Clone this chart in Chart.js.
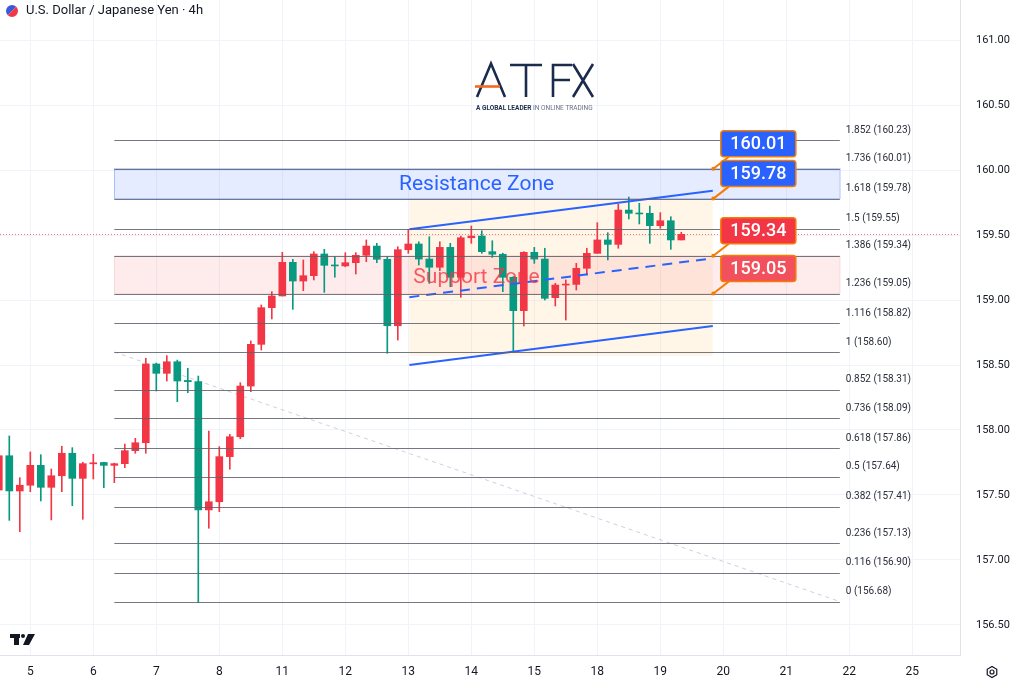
<!DOCTYPE html>
<html>
<head>
<meta charset="utf-8">
<script src="https://cdn.jsdelivr.net/npm/chart.js@4.4.1/dist/chart.umd.min.js"></script>
<style>
  html, body { margin: 0; padding: 0; background: #fff; }
  #wrap { width: 1024px; height: 688px; }
</style>
</head>
<body>
<div id="wrap"><canvas id="fxChart" width="1024" height="688"></canvas></div>
<script>
// USD/JPY 4h candles, index 0 = first candle of day 5
const firstIndex = -3;
const opens  = [157.538,157.802,157.531,157.575,157.728,157.559,157.648,157.821,157.628,157.740,157.750,157.728,157.741,157.841,157.902,158.508,158.436,158.525,158.381,158.372,157.385,157.448,157.795,157.948,158.338,158.659,158.941,159.031,159.290,159.146,159.187,159.354,159.267,159.262,159.287,159.344,159.415,159.313,158.802,159.387,159.431,159.315,159.252,159.405,159.175,159.479,159.492,159.372,159.352,159.175,158.918,159.367,159.315,159.018,159.115,159.120,159.244,159.359,159.462,159.428,159.692,159.667,159.667,159.572,159.610,159.462];
const highs  = [157.846,157.954,157.633,157.831,157.810,157.700,157.875,157.864,157.752,157.813,157.752,157.745,157.892,157.936,158.552,158.515,158.572,158.538,158.475,158.415,157.992,157.872,157.967,158.364,158.685,158.962,159.064,159.367,159.313,159.308,159.372,159.390,159.333,159.364,159.364,159.462,159.436,159.333,159.410,159.544,159.448,159.487,159.448,159.436,159.492,159.569,159.533,159.456,159.360,159.180,159.372,159.405,159.398,159.128,159.154,159.282,159.398,159.595,159.518,159.738,159.792,159.744,159.723,159.672,159.641,159.521];
const lows   = [157.500,157.305,157.218,157.525,157.454,157.308,157.525,157.418,157.313,157.623,157.556,157.595,157.710,157.821,157.821,158.300,158.377,158.218,158.287,156.672,157.244,157.372,157.698,157.933,158.295,158.615,158.854,159.031,158.928,159.072,159.154,159.059,159.175,159.256,159.200,159.295,159.287,158.590,158.692,159.359,159.269,159.128,159.225,159.102,159.021,159.436,159.359,159.328,159.064,158.602,158.800,159.282,159.000,158.954,158.846,159.077,159.192,159.359,159.308,159.398,159.623,159.585,159.436,159.552,159.390,159.462];
const closes = [157.802,157.531,157.575,157.728,157.559,157.648,157.821,157.628,157.741,157.745,157.728,157.741,157.841,157.902,158.508,158.436,158.525,158.377,158.372,157.385,157.448,157.795,157.948,158.338,158.659,158.941,159.031,159.290,159.146,159.187,159.354,159.267,159.262,159.287,159.344,159.415,159.313,158.802,159.387,159.431,159.315,159.252,159.405,159.175,159.479,159.492,159.372,159.352,159.175,158.918,159.367,159.315,159.013,159.115,159.120,159.244,159.359,159.462,159.428,159.692,159.667,159.662,159.572,159.610,159.462,159.505];

const dayLabels  = ['5','6','7','8','11','12','13','14','15','18','19','20','21','22','25'];
const dayTickIdx = [0,6,12,18,24,30,36,42,48,54,60,66,72,78,84];
const priceTicks = [156.5,157,157.5,158,158.5,159,159.5,160,160.5,161];
const xRange = [-2.886, 88.543];
const yRange = [156.269, 161.308];

const fibRatios = [1.852,1.736,1.618,1.5,1.386,1.236,1.116,1,0.852,0.736,0.618,0.5,0.382,0.236,0.116,0];
const fibPrices = [160.23,160.01,159.78,159.55,159.34,159.05,158.82,158.60,158.31,158.09,157.86,157.64,157.41,157.13,156.90,156.68];
const fibSpan = [8, 77.1];
const fibTrend = [[8, 158.60], [77.1, 156.68]];

const resistanceZone = [159.78, 160.01];
const supportZone = [159.05, 159.34];
const zoneLabelIdx = 42.5;
const channelBox = [36.1, 65.0, 158.57, 159.78];
const channelUpper = [[36.1, 159.544], [65.0, 159.841]];
const channelLower = [[36.1, 158.50], [65.0, 158.80]];
const channelMid = [[36.1, 159.022], [64.4, 159.315]];

const calloutPrices = [160.01, 159.78, 159.34, 159.05];
const calloutIdx = 65.05;
const lastPrice = 159.505;

const upColor = '#f23645';
const downColor = '#089981';

const candleIdx = opens.map((_, k) => k + firstIndex);
const candleColors = opens.map((o, k) => closes[k] >= o ? upColor : downColor);
const bodies = candleIdx.map((x, k) => ({ x: x, y: [opens[k], closes[k]] }));
const wicks = candleIdx.map((x, k) => ({ x: x, y: [lows[k], highs[k]] }));
const pts = arr => arr.map(p => ({ x: p[0], y: p[1] }));

function hLine(ctx, x, y, i0, i1, price) {
  const py = Math.round(y.getPixelForValue(price)) + 0.5;
  ctx.beginPath();
  ctx.moveTo(x.getPixelForValue(i0), py);
  ctx.lineTo(x.getPixelForValue(i1), py);
  ctx.stroke();
}

function zoneRect(x, y, i0, i1, p0, p1) {
  const x0 = x.getPixelForValue(i0), x1 = x.getPixelForValue(i1);
  const y0 = y.getPixelForValue(p1), y1 = y.getPixelForValue(p0);
  return [x0, y0, x1 - x0, y1 - y0];
}

function roundRect(ctx, rx, ry, w, h, r) {
  ctx.beginPath();
  ctx.moveTo(rx + r, ry);
  ctx.lineTo(rx + w - r, ry);
  ctx.quadraticCurveTo(rx + w, ry, rx + w, ry + r);
  ctx.lineTo(rx + w, ry + h - r);
  ctx.quadraticCurveTo(rx + w, ry + h, rx + w - r, ry + h);
  ctx.lineTo(rx + r, ry + h);
  ctx.quadraticCurveTo(rx, ry + h, rx, ry + h - r);
  ctx.lineTo(rx, ry + r);
  ctx.quadraticCurveTo(rx, ry, rx + r, ry);
  ctx.closePath();
}

const drawings = {
  id: 'drawings',
  beforeDatasetsDraw(chart) {
    const { ctx, chartArea: a, scales: { x, y } } = chart;
    ctx.save();
    ctx.beginPath();
    ctx.rect(a.left, a.top, a.width, a.height);
    ctx.clip();

    // channel background
    let r = zoneRect(x, y, channelBox[0], channelBox[1], channelBox[2], channelBox[3]);
    ctx.fillStyle = 'rgba(255,152,0,0.09)';
    ctx.fillRect(r[0], r[1], r[2], r[3]);

    // resistance zone
    r = zoneRect(x, y, fibSpan[0], fibSpan[1], resistanceZone[0], resistanceZone[1]);
    ctx.fillStyle = 'rgba(41,98,255,0.12)';
    ctx.fillRect(r[0], r[1], r[2], r[3]);
    ctx.strokeStyle = 'rgba(41,98,255,0.35)';
    ctx.lineWidth = 1;
    ctx.strokeRect(Math.round(r[0]) + 0.5, r[1], r[2], r[3]);

    // support zone
    r = zoneRect(x, y, fibSpan[0], fibSpan[1], supportZone[0], supportZone[1]);
    ctx.fillStyle = 'rgba(242,54,69,0.1)';
    ctx.fillRect(r[0], r[1], r[2], r[3]);
    ctx.strokeStyle = 'rgba(242,54,69,0.15)';
    ctx.strokeRect(Math.round(r[0]) + 0.5, r[1], r[2], r[3]);

    // current price dotted line
    ctx.strokeStyle = 'rgba(242,54,69,0.7)';
    ctx.setLineDash([1, 2]);
    hLine(ctx, x, y, xRange[0], xRange[1], lastPrice);
    ctx.setLineDash([]);
    ctx.restore();
  },
  afterDatasetsDraw(chart) {
    const { ctx, scales: { x, y } } = chart;
    ctx.save();

    // fibonacci levels
    ctx.strokeStyle = 'rgba(93,96,107,0.85)';
    ctx.lineWidth = 1;
    ctx.fillStyle = '#2a2e39';
    ctx.font = '10px Roboto, sans-serif';
    ctx.textAlign = 'left';
    ctx.textBaseline = 'middle';
    fibPrices.forEach((p, k) => {
      hLine(ctx, x, y, fibSpan[0], fibSpan[1], p);
      ctx.fillText(fibRatios[k] + ' (' + p.toFixed(2) + ')', x.getPixelForValue(fibSpan[1]) + 6, y.getPixelForValue(p) - 10);
    });

    // zone labels
    ctx.textAlign = 'center';
    ctx.font = '21px Roboto, sans-serif';
    ctx.fillStyle = '#2962ff';
    ctx.fillText('Resistance Zone', x.getPixelForValue(zoneLabelIdx), y.getPixelForValue((resistanceZone[0] + resistanceZone[1]) / 2) + 1);
    ctx.fillStyle = 'rgba(242,54,69,0.8)';
    ctx.fillText('Support Zone', x.getPixelForValue(zoneLabelIdx), y.getPixelForValue((supportZone[0] + supportZone[1]) / 2) + 3);

    // callouts
    const boxColors = ['#2962ff', '#2962ff', '#f23645', '#f2505c'];
    calloutPrices.forEach((p, k) => {
      const ax = x.getPixelForValue(calloutIdx), ay = y.getPixelForValue(p);
      const bx = ax + 7.5, bw = 75, bh = 26, by = ay - 12 - bh;
      ctx.strokeStyle = '#f57c00';
      ctx.lineWidth = 2;
      ctx.beginPath();
      ctx.moveTo(ax, ay);
      ctx.lineTo(bx + 8, by + bh);
      ctx.stroke();
      ctx.fillStyle = '#f57c00';
      ctx.beginPath();
      ctx.arc(ax, ay, 2, 0, Math.PI * 2);
      ctx.fill();
      roundRect(ctx, bx, by, bw, bh, 3);
      ctx.fillStyle = boxColors[k];
      ctx.fill();
      ctx.lineWidth = 1.5;
      ctx.strokeStyle = '#f57c00';
      ctx.stroke();
      ctx.fillStyle = '#ffffff';
      ctx.font = '500 18px Roboto, sans-serif';
      ctx.textAlign = 'center';
      ctx.fillText(p.toFixed(2), bx + bw / 2, by + bh / 2 + 1);
    });
    ctx.restore();
  },
  afterDraw(chart) {
    const { ctx } = chart;
    ctx.save();
    // header
    ctx.beginPath();
    ctx.arc(12, 11, 6, Math.PI * 0.75, Math.PI * 1.75);
    ctx.fillStyle = '#3a5bd9';
    ctx.fill();
    ctx.beginPath();
    ctx.arc(12, 11, 6, Math.PI * 1.75, Math.PI * 0.75);
    ctx.fillStyle = '#f23645';
    ctx.fill();
    ctx.fillStyle = '#131722';
    ctx.font = '13px Roboto, sans-serif';
    ctx.textAlign = 'left';
    ctx.textBaseline = 'middle';
    ctx.fillText('U.S. Dollar / Japanese Yen \u00b7 4h', 26, 11);

    // ATFX logo
    ctx.strokeStyle = '#1b2b4b';
    ctx.lineWidth = 2.6;
    ctx.lineJoin = 'miter';
    ctx.beginPath();
    ctx.moveTo(477, 97); ctx.lineTo(491, 63.5); ctx.lineTo(505, 97);
    ctx.moveTo(510, 65); ctx.lineTo(542, 65);
    ctx.moveTo(526, 65); ctx.lineTo(526, 97);
    ctx.moveTo(553, 97); ctx.lineTo(553, 65); ctx.lineTo(572, 65);
    ctx.moveTo(553, 80); ctx.lineTo(570, 80);
    ctx.moveTo(573, 64); ctx.lineTo(593, 97);
    ctx.moveTo(593, 64); ctx.lineTo(573, 97);
    ctx.stroke();
    ctx.strokeStyle = '#f26b21';
    ctx.beginPath();
    ctx.moveTo(475, 86.5); ctx.lineTo(500, 86.5);
    ctx.stroke();
    ctx.font = 'bold 6.5px Roboto, sans-serif';
    ctx.fillStyle = '#1b2b4b';
    const t1 = 'A GLOBAL LEADER ';
    ctx.fillText(t1, 476, 108);
    const w1 = ctx.measureText(t1).width;
    ctx.font = '6.5px Roboto, sans-serif';
    ctx.fillStyle = '#6b7385';
    ctx.fillText('IN ONLINE TRADING', 476 + w1, 108);

    // TradingView mark
    ctx.fillStyle = '#131722';
    ctx.fillRect(10, 634, 10, 4);
    ctx.fillRect(14, 634, 5, 11);
    ctx.beginPath();
    ctx.arc(23, 636, 2, 0, Math.PI * 2);
    ctx.fill();
    ctx.beginPath();
    ctx.moveTo(28, 634); ctx.lineTo(35, 634); ctx.lineTo(29, 645); ctx.lineTo(23, 645);
    ctx.closePath();
    ctx.fill();

    // settings icon
    ctx.strokeStyle = '#131722';
    ctx.lineWidth = 1.2;
    ctx.beginPath();
    for (let k = 0; k < 6; k++) {
      const ang = Math.PI / 6 + k * Math.PI / 3;
      const px = 992 + 5.5 * Math.cos(ang), py = 672 + 5.5 * Math.sin(ang);
      if (k === 0) ctx.moveTo(px, py); else ctx.lineTo(px, py);
    }
    ctx.closePath();
    ctx.stroke();
    ctx.beginPath();
    ctx.arc(992, 672, 2, 0, Math.PI * 2);
    ctx.stroke();
    ctx.restore();
  }
};

Chart.defaults.font.family = 'Roboto, "Noto Sans", sans-serif';

new Chart(document.getElementById('fxChart'), {
  type: 'bar',
  data: {
    datasets: [
      { type: 'line', data: pts(channelUpper), borderColor: '#2962ff', borderWidth: 2, pointRadius: 0, order: 0 },
      { type: 'line', data: pts(channelLower), borderColor: '#2962ff', borderWidth: 2, pointRadius: 0, order: 0 },
      { type: 'line', data: pts(channelMid), borderColor: '#2962ff', borderWidth: 2, borderDash: [10, 7], pointRadius: 0, order: 0 },
      { type: 'line', data: pts(fibTrend), borderColor: 'rgba(120,123,134,0.35)', borderWidth: 1, borderDash: [4, 4], pointRadius: 0, order: 0 },
      { label: 'body', data: bodies, backgroundColor: candleColors, barThickness: 7, minBarLength: 1, grouped: false, order: 1 },
      { label: 'wick', data: wicks, backgroundColor: candleColors, barThickness: 1, grouped: false, order: 2 }
    ]
  },
  options: {
    responsive: false,
    animation: false,
    layout: { padding: 0 },
    plugins: { legend: { display: false }, tooltip: { enabled: false } },
    scales: {
      x: {
        type: 'linear',
        min: xRange[0],
        max: xRange[1],
        offset: false,
        grid: { color: '#f0f3fa', drawTicks: false, offset: false },
        border: { color: '#e0e3eb' },
        afterBuildTicks: s => { s.ticks = dayTickIdx.map(v => ({ value: v })); },
        afterFit: s => { s.height = 33; },
        ticks: {
          callback: (v, i) => dayLabels[i],
          color: '#131722',
          font: { size: 12 },
          padding: 10,
          maxRotation: 0,
          autoSkip: false
        }
      },
      y: {
        position: 'right',
        min: yRange[0],
        max: yRange[1],
        // invisible tick marks push labels right; negative padding keeps the plot flush with the top
        grid: { color: '#f0f3fa', drawTicks: true, tickLength: 23, tickColor: 'rgba(0,0,0,0)' },
        border: { color: '#e0e3eb' },
        afterBuildTicks: s => { s.ticks = priceTicks.map(v => ({ value: v })); },
        afterFit: s => { s.width = 64; },
        ticks: {
          callback: v => v.toFixed(2),
          color: '#131722',
          font: { size: 11 },
          padding: -7
        }
      }
    }
  },
  plugins: [drawings]
});
</script>
</body>
</html>
